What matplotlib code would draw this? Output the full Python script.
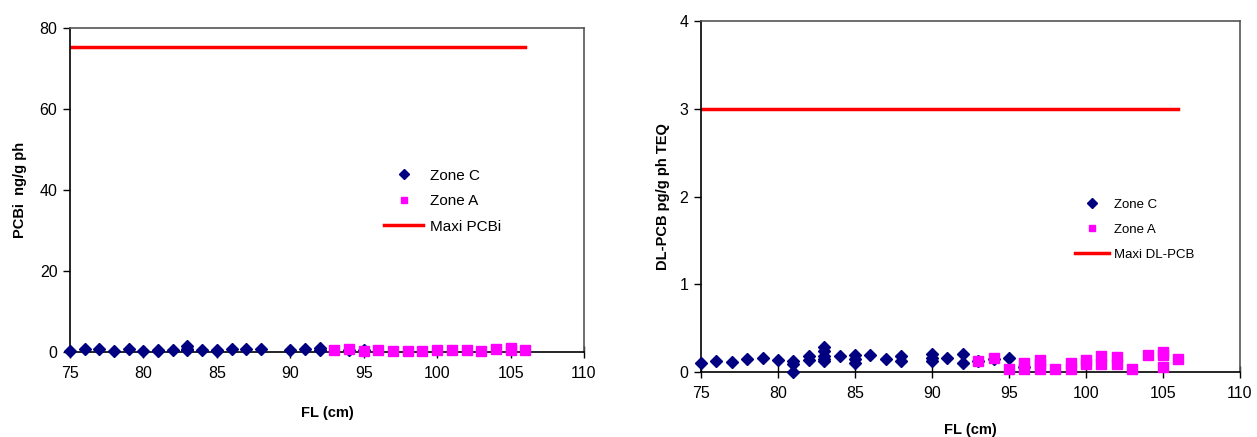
import matplotlib
matplotlib.use("Agg")
import matplotlib.pyplot as plt
from matplotlib.lines import Line2D

plt.rcParams['font.family'] = ['Liberation Sans', 'DejaVu Sans']

# ---- Left chart: PCBi ----
pcbi_c_fl = [75, 76, 77, 78, 79, 80, 81, 81, 82, 83, 83, 83, 84, 85, 85, 86, 87, 88, 90, 91, 92, 92, 94, 95]
pcbi_c_val = [0.2, 0.75, 0.65, 0.25, 0.65, 0.2, 0.55, 0.3, 0.55, 1.4, 0.8, 0.4, 0.6, 0.5, 0.15, 0.7, 0.65, 0.7, 0.55, 0.65, 1.0, 0.55, 0.6, 0.6]
pcbi_a_fl = [93, 94, 95, 96, 97, 98, 99, 100, 101, 102, 103, 104, 105, 105, 106]
pcbi_a_val = [0.6, 0.7, 0.35, 0.5, 0.25, 0.3, 0.3, 0.5, 0.5, 0.6, 0.25, 0.8, 1.0, 0.4, 0.6]
pcbi_max_fl = [75, 106]
pcbi_max_val = [75.3, 75.3]

# ---- Right chart: DL-PCB ----
dl_c_fl = [75, 76, 77, 78, 79, 80, 81, 81, 81, 82, 82, 83, 83, 83, 83, 83, 84, 85, 85, 85, 86, 87, 88, 88,
           90, 90, 90, 91, 92, 92, 93, 94, 95, 96]
dl_c_val = [0.10, 0.13, 0.115, 0.145, 0.165, 0.14, 0.125, 0.09, 0.0, 0.18, 0.14, 0.28, 0.24, 0.18, 0.15, 0.125,
            0.18, 0.19, 0.145, 0.10, 0.195, 0.145, 0.18, 0.125, 0.2, 0.165, 0.125, 0.165, 0.21, 0.10,
            0.13, 0.15, 0.16, 0.06]
dl_a_fl = [93, 94, 95, 96, 96, 97, 97, 97, 98, 99, 99, 100, 100, 101, 101, 102, 102, 103, 104, 105, 105, 105, 106]
dl_a_val = [0.12, 0.165, 0.03, 0.105, 0.03, 0.14, 0.09, 0.03, 0.035, 0.105, 0.03, 0.14, 0.09, 0.18, 0.09,
            0.17, 0.09, 0.035, 0.19, 0.23, 0.195, 0.06, 0.145]
dl_max_fl = [75, 106]
dl_max_val = [3.0, 3.0]

x_ticks = [75, 80, 85, 90, 95, 100, 105, 110]

NAVY = '#000080'
MAG = '#FF00FF'
RED = '#FF0000'

W, H = 1257, 437
fig = plt.figure(figsize=(W / 100, H / 100), dpi=100)

def px_axes(l, t, r, b):
    return fig.add_axes([l / W, 1 - b / H, (r - l) / W, (b - t) / H])

ax1 = px_axes(70, 28, 584, 352)
ax2 = px_axes(701, 21, 1240, 372)

def style(ax, ylim, yticks):
    ax.set_xlim(75, 110)
    ax.set_ylim(*ylim)
    ax.set_xticks(x_ticks)
    ax.set_yticks(yticks)
    ax.spines['left'].set_color('black')
    ax.spines['bottom'].set_color('black')
    ax.spines['top'].set_color('#555555')
    ax.spines['right'].set_color('#555555')
    for s in ax.spines.values():
        s.set_linewidth(1.2)
    ax.tick_params(axis='y', direction='out', length=5, width=1, labelsize=11.5, pad=4)
    ax.tick_params(axis='x', direction='inout', length=8, width=1, labelsize=11.5, pad=6)

style(ax1, (0, 80), [0, 20, 40, 60, 80])
style(ax2, (0, 4), [0, 1, 2, 3, 4])

# left
ax1.plot(pcbi_max_fl, pcbi_max_val, color=RED, lw=2.5, zorder=2)
ax1.plot(pcbi_c_fl, pcbi_c_val, 'D', color=NAVY, ms=6.5, ls='none', clip_on=False, zorder=3)
ax1.plot(pcbi_a_fl, pcbi_a_val, 's', color=MAG, ms=6.5, ls='none', clip_on=False, zorder=4)
ax1.set_xlabel('FL (cm)', fontsize=10.5, fontweight='bold', labelpad=18)
ax1.set_ylabel('PCBi  ng/g ph', fontsize=10.5, fontweight='bold', labelpad=9)

# right
ax2.plot(dl_max_fl, dl_max_val, color=RED, lw=2.5, zorder=2)
ax2.plot(dl_c_fl, dl_c_val, 'D', color=NAVY, ms=6, ls='none', clip_on=False, zorder=3)
ax2.plot(dl_a_fl, dl_a_val, 's', color=MAG, ms=6.5, ls='none', clip_on=False, zorder=4)
ax2.set_xlabel('FL (cm)', fontsize=10.5, fontweight='bold', labelpad=16)
ax2.set_ylabel('DL-PCB pg/g ph TEQ', fontsize=10.5, fontweight='bold', labelpad=7)

def handles():
    return [Line2D([], [], marker='D', color=NAVY, ls='none', ms=5),
            Line2D([], [], marker='s', color=MAG, ls='none', ms=5),
            Line2D([], [], color=RED, lw=2.5)]

ax1.legend(handles(), ['Zone C', 'Zone A', 'Maxi PCBi'], loc='upper left',
           bbox_to_anchor=(370 / W, 1 - 155 / H), bbox_transform=fig.transFigure,
           frameon=False, fontsize=11, handlelength=2.6, labelspacing=0.75, handletextpad=0.4)
ax2.legend(handles(), ['Zone C', 'Zone A', 'Maxi DL-PCB'], loc='upper left',
           bbox_to_anchor=(1063 / W, 1 - 187 / H), bbox_transform=fig.transFigure,
           frameon=False, fontsize=9.5, handlelength=2.6, labelspacing=0.95, handletextpad=0.4)

fig.savefig('out.png', dpi=100)
